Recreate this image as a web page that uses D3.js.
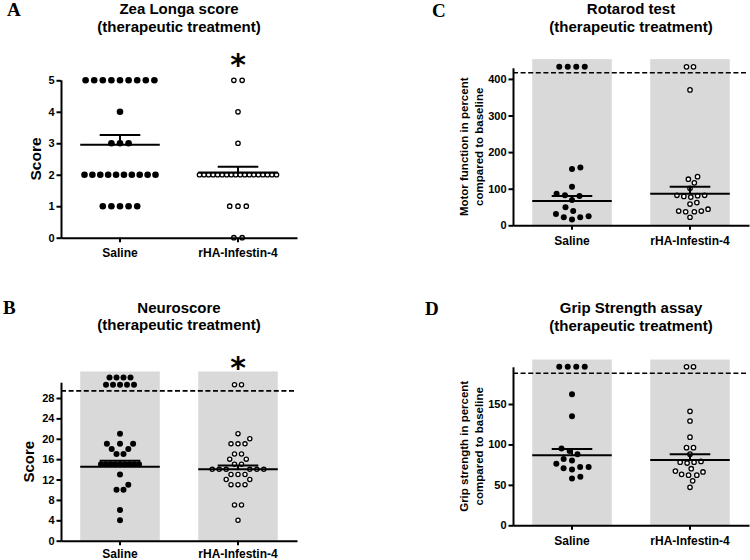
<!DOCTYPE html>
<html><head><meta charset="utf-8">
<script src="https://cdn.jsdelivr.net/npm/d3@7"></script>
<style>
body{margin:0;background:#fff}
svg{display:block}
text{font-family:"Liberation Sans",Arial,sans-serif;font-weight:bold;fill:#000}
</style>
</head><body>
<svg id="c" width="750" height="560"></svg>
<script>
// ---------------- data ----------------
const categories = ["Saline", "rHA-Infestin-4"];

const zeaSaline = [5,5,5,5,5,5,5,5,5,4,3,3,3,2,2,2,2,2,2,2,2,2,2,1,1,1,1,1];
const zeaRHA    = [5,5,4,3,2,2,2,2,2,2,2,2,2,2,2,2,2,2,2,2,2,2,1,1,1,0,0];
const zeaMean = [2.95, 2.07];
const zeaSem  = [0.31, 0.18];
const zeaTicks = [0,1,2,3,4,5];

const neuroSaline = [32,32,32,32,30.6,30.6,30.6,30.6,30.6,21,19,19,19,18,18,17,17,15,15,15,15,15,15,15,15,15,13,11,10,10,6,4];
const neuroRHA    = [30.6,30.6,21,20,19,19,19,17,17,16,16,15,15,14,14,14,14,14,14,13,13,13,12,12,11,11,11,7,7,4];
const neuroMean = [14.5, 14.0];
const neuroSem  = [1.2, 0.75];
const neuroTicks = [0,4,8,12,16,20,24,28];
const neuroCutoff = 29.4;

const rotaSaline = [433,433,433,433,158,154,105,86,82,80,69,49,39,31,25,22,22,16];
const rotaRHA    = [433,433,370,133,126,116,101,82,81,77,79,82,58,62,39,37,44,37,39,22];
const rotaMean = [66.4, 86.3];
const rotaSem  = [13.6, 19.2];
const rotaTicks = [0,100,200,300,400];
const rotaCutoff = 417;

const gripSaline = [196,196,196,196,162,135,95,92,88,82,80,76,72,70.5,72,69,58,60];
const gripRHA    = [196,196,141,129,109,96,96,88,78,77,78,79,70,66,67,62,62,63,55,47];
const gripMean = [86.6, 80.7];
const gripSem  = [7.8, 7.1];
const gripTicks = [0,50,100,150];
const gripCutoff = 188;

// ---------------- panel layout ----------------
const panels = [
  {letter:"A", lx:7, ly:16, title:["Zea Longa score","(therapeutic treatment)"], ty:[14,31.5],
   ylab:["Score"], ylabX:[41], ylabSize:15.5, catY:19.3,
   x0:61, x1:297, yTop:80.3, yBot:237.7, domain:[0,5], ticks:zeaTicks,
   series:[zeaSaline, zeaRHA], mean:zeaMean, sem:zeaSem, band:null, cutoff:null,
   spacing:[8.6,8.3], maxW:[71,77], r:[3.3,2.2], star:74.5},
  {letter:"B", lx:3, ly:314, title:["Neuroscore","(therapeutic treatment)"], ty:[312.5,330],
   ylab:["Score"], ylabX:[34], ylabSize:15, catY:17.6,
   x0:61, x1:297, yTop:382.7, yBot:540.7, domain:[0,31], ticks:neuroTicks,
   series:[neuroSaline, neuroRHA], mean:neuroMean, sem:neuroSem, band:33.2, cutoff:neuroCutoff,
   spacing:[7,7], maxW:[38,38], r:[3.0,2.1], star:378},
  {letter:"C", lx:432, ly:17, title:["Rotarod test","(therapeutic treatment)"], ty:[14,31.5],
   ylab:["Motor function in percent","compared to baseline"], ylabX:[468,483], ylabSize:11.5, catY:19.3,
   x0:513, x1:749, yTop:68.3, yBot:225.3, domain:[0,429], ticks:rotaTicks,
   series:[rotaSaline, rotaRHA], mean:rotaMean, sem:rotaSem, band:454, cutoff:rotaCutoff,
   spacing:[8.5,7], maxW:[60,60], r:[3.0,2.2], star:null},
  {letter:"D", lx:425, ly:315, title:["Grip Strength assay","(therapeutic treatment)"], ty:[313,330.5],
   ylab:["Grip strength in percent","compared to baseline"], ylabX:[468,483], ylabSize:11.5, catY:19.3,
   x0:513, x1:749, yTop:367.3, yBot:525.3, domain:[0,195.4], ticks:gripTicks,
   series:[gripSaline, gripRHA], mean:gripMean, sem:gripSem, band:205, cutoff:gripCutoff,
   spacing:[8.5,7], maxW:[60,60], r:[3.0,2.2], star:null}
];

// beeswarm-like layout: tie rows centred, otherwise nearest free offset
function swarm(values, y, s, maxW){
  const sorted = values.slice().sort((a,b)=>a-b);
  const groups = d3.groups(sorted, v=>v);
  const placed = [];
  const collides = (dx, py) => placed.some(p => {
    const a = p.dx-dx, b = p.py-py; return a*a+b*b < s*s - 1e-6; });
  for (const [v, arr] of groups){
    const py = y(v), n = arr.length;
    let sp = s; if (n>1 && (n-1)*sp > maxW) sp = maxW/(n-1);
    const row = d3.range(n).map(i => (i-(n-1)/2)*sp);
    if (!row.some(dx => collides(dx, py))){ row.forEach(dx => placed.push({v,py,dx})); continue; }
    for (let i=0;i<n;i++){
      const cands = [0];
      placed.forEach(p => { const dy = Math.abs(p.py-py);
        if (dy < s){ const h = Math.sqrt(s*s-dy*dy); cands.push(p.dx+h, p.dx-h); } });
      cands.sort((a,b)=> (Math.abs(a)-Math.abs(b)) || (b-a));
      const dx = cands.find(c => !collides(c, py));
      placed.push({v,py,dx});
    }
  }
  return placed;
}

const svg = d3.select("#c");

panels.forEach(P => {
  const g = svg.append("g");
  const x = d3.scaleBand().domain(categories).range([P.x0, P.x1]).paddingInner(0.326).paddingOuter(0.163);
  const y = d3.scaleLinear().domain(P.domain).range([P.yBot, P.yTop]);
  const bw = x.bandwidth();
  const cx = c => x(c) + bw/2;

  // letter
  g.append("text").attr("x",P.lx).attr("y",P.ly)
    .style("font-family","'Liberation Serif','Times New Roman',serif").style("font-size","19px").text(P.letter);
  // title
  const tx = (P.x0+P.x1)/2;
  P.title.forEach((t,i)=> g.append("text").attr("x",tx).attr("y",P.ty[i]).attr("text-anchor","middle")
    .style("font-size","15px").text(t));

  // grey bands
  if (P.band != null){
    g.selectAll("rect.band").data(categories).join("rect").attr("class","band")
      .attr("x", d=>x(d)).attr("width", bw)
      .attr("y", y(P.band)).attr("height", y(0)-y(P.band)).attr("fill","#d9d9d9");
  }
  // cutoff dashed line
  if (P.cutoff != null){
    g.append("line").attr("x1",P.x0).attr("x2",P.x1-2).attr("y1",y(P.cutoff)).attr("y2",y(P.cutoff))
      .attr("stroke","#000").attr("stroke-width",1.6).attr("stroke-dasharray","5,2.6");
  }

  // dots
  P.series.forEach((vals, si) => {
    const pts = swarm(vals, y, P.spacing[si], P.maxW[si]);
    const c = categories[si];
    const sel = g.selectAll(null).data(pts).join("circle")
      .attr("cx", d => cx(c)+d.dx).attr("cy", d => d.py).attr("r", P.r[si]);
    if (si===0) sel.attr("fill","#000");
    else sel.attr("fill","#fff").attr("stroke","#000").attr("stroke-width",1.3);
  });

  // mean and SEM
  categories.forEach((c,i)=>{
    const m = y(P.mean[i]), t = y(P.mean[i]+P.sem[i]);
    g.append("line").attr("x1",x(c)).attr("x2",x(c)+bw).attr("y1",m).attr("y2",m).attr("stroke","#000").attr("stroke-width",2);
    g.append("line").attr("x1",cx(c)).attr("x2",cx(c)).attr("y1",m).attr("y2",t).attr("stroke","#000").attr("stroke-width",2);
    g.append("line").attr("x1",cx(c)-20.3).attr("x2",cx(c)+20.3).attr("y1",t).attr("y2",t).attr("stroke","#000").attr("stroke-width",2);
  });

  // axes
  const ya = g.append("g").attr("transform",`translate(${P.x0},0)`)
    .call(d3.axisLeft(y).tickValues(P.ticks).tickFormat(d3.format("d")).tickSize(4.5).tickSizeOuter(0).tickPadding(2));
  const xa = g.append("g").attr("transform",`translate(0,${P.yBot})`)
    .call(d3.axisBottom(x).tickSize(4.5).tickSizeOuter(0).tickFormat(()=>""));
  [ya, xa].forEach(a => { a.selectAll("path,line").attr("stroke","#000").attr("stroke-width",2);
    a.selectAll("text").style("font-family","'Liberation Sans',Arial,sans-serif").style("font-weight","bold").style("font-size","11px").attr("fill","#000"); });
  ya.select(".domain").attr("d", `M0.5,${P.yTop}V${P.yBot+1}`);

  // category labels
  categories.forEach(c => g.append("text").attr("x",cx(c)).attr("y",P.yBot+P.catY).attr("text-anchor","middle")
    .style("font-size","12px").text(c));

  // y label
  const ym = (P.yTop+P.yBot)/2;
  P.ylab.forEach((t,i)=> g.append("text").attr("transform",`translate(${P.ylabX[i]},${ym}) rotate(-90)`)
    .attr("text-anchor","middle").style("font-size",P.ylabSize+"px").text(t));

  // significance star
  if (P.star != null){
    g.append("text").attr("x",cx(categories[1])).attr("y",P.star).attr("text-anchor","middle")
      .style("font-family","'DejaVu Sans',sans-serif").style("font-size","30px").text("*");
  }
});
</script>
</body></html>
